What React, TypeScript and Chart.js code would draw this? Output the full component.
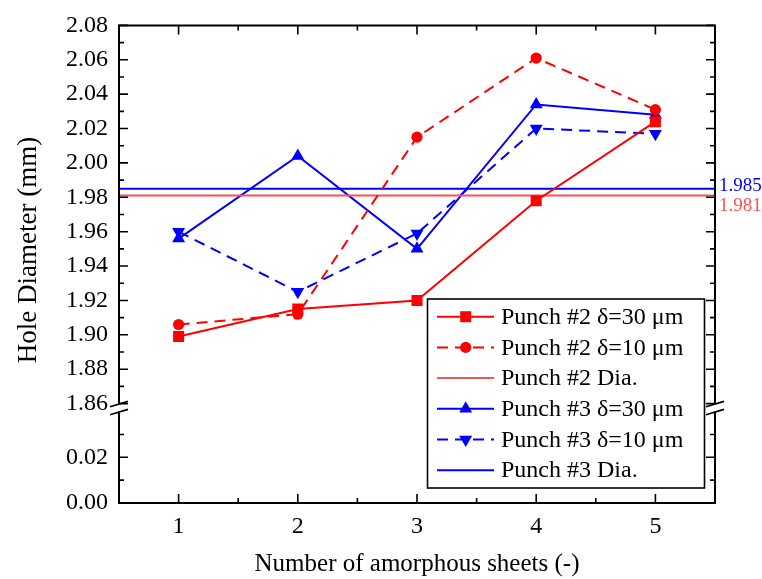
import React, { useEffect, useRef } from 'react';
import { Chart, registerables } from 'chart.js';

Chart.register(...registerables);

// ---------- data ----------
const sheets = [1, 2, 3, 4, 5];
const punch2d30 = [1.899, 1.915, 1.92, 1.978, 2.024];
const punch2d10 = [1.906, 1.912, 2.015, 2.061, 2.031];
const punch3d30 = [1.956, 2.004, 1.95, 2.034, 2.028];
const punch3d10 = [1.96, 1.925, 1.959, 2.02, 2.017];
const punch2Dia = 1.981;
const punch3Dia = 1.985;

const seriesLabels = [
  'Punch #2 δ=30 μm',
  'Punch #2 δ=10 μm',
  'Punch #2 Dia.',
  'Punch #3 δ=30 μm',
  'Punch #3 δ=10 μm',
  'Punch #3 Dia.',
];

const xMin = 0.5;
const xMax = 5.5;
const xTickValues = [1, 2, 3, 4, 5];
const xMinorValues = [1.5, 2.5, 3.5, 4.5];

const upperMin = 1.86;
const upperMax = 2.08;
const upperTicks = [1.86, 1.88, 1.9, 1.92, 1.94, 1.96, 1.98, 2.0, 2.02, 2.04, 2.06, 2.08];
const upperMinor = [1.87, 1.89, 1.91, 1.93, 1.95, 1.97, 1.99, 2.01, 2.03, 2.05, 2.07];

const lowerMin = 0;
const lowerMax = 0.0435;
const lowerBreak = 0.04;
const lowerTicks = [0.0, 0.02];
const lowerMinor = [0.01, 0.03];

const xTitle = 'Number of amorphous sheets (-)';
const yTitle = 'Hole Diameter (mm)';

// ---------- styles ----------
const FONT = "'Liberation Serif', 'Times New Roman', serif";
const RED = '#ff0000';
const RED_LIGHT = '#ff5050';
const BLUE = '#0000ff';
const DASH = [11, 7];

const pts = (ys: number[]) => sheets.map((x, i) => ({ x, y: ys[i] }));
const flat = (v: number) => [{ x: xMin, y: v }, { x: xMax, y: v }];

const datasets: any[] = [
  {
    label: seriesLabels[0], data: pts(punch2d30), borderColor: RED, backgroundColor: RED,
    borderWidth: 2, pointStyle: 'rect', pointRadius: 7.8, pointBorderWidth: 0, yAxisID: 'y', xAxisID: 'x',
    _marker: 'rect', _dash: [],
  },
  {
    label: seriesLabels[1], data: pts(punch2d10), borderColor: RED, backgroundColor: RED,
    borderWidth: 2, borderDash: DASH, pointStyle: 'circle', pointRadius: 5.6, pointBorderWidth: 0, yAxisID: 'y', xAxisID: 'x',
    _marker: 'circle', _dash: DASH,
  },
  {
    label: seriesLabels[2], data: flat(punch2Dia), borderColor: RED_LIGHT, backgroundColor: RED_LIGHT,
    borderWidth: 2, pointRadius: 0, yAxisID: 'y', xAxisID: 'x', _marker: 'none', _dash: [],
  },
  {
    label: seriesLabels[3], data: pts(punch3d30), borderColor: BLUE, backgroundColor: BLUE,
    borderWidth: 2, pointStyle: 'triangle', pointRadius: 7.5, pointBorderWidth: 0, yAxisID: 'y', xAxisID: 'x',
    _marker: 'up', _dash: [],
  },
  {
    label: seriesLabels[4], data: pts(punch3d10), borderColor: BLUE, backgroundColor: BLUE,
    borderWidth: 2, borderDash: DASH, pointStyle: 'triangle', pointRotation: 180, pointRadius: 7.5, pointBorderWidth: 0,
    yAxisID: 'y', xAxisID: 'x', _marker: 'down', _dash: DASH,
  },
  {
    label: seriesLabels[5], data: flat(punch3Dia), borderColor: BLUE, backgroundColor: BLUE,
    borderWidth: 2, pointRadius: 0, yAxisID: 'y', xAxisID: 'x', _marker: 'none', _dash: [],
  },
];

function drawMarker(ctx: CanvasRenderingContext2D, kind: string, x: number, y: number, color: string) {
  ctx.save();
  ctx.fillStyle = color;
  ctx.beginPath();
  if (kind === 'rect') {
    ctx.rect(x - 5.5, y - 5.5, 11, 11);
  } else if (kind === 'circle') {
    ctx.arc(x, y, 5.6, 0, Math.PI * 2);
  } else if (kind === 'up' || kind === 'down') {
    const r = 7.5;
    const s = kind === 'up' ? 1 : -1;
    ctx.moveTo(x, y - s * r);
    ctx.lineTo(x + r * Math.sin((2 * Math.PI) / 3), y + s * r * 0.5);
    ctx.lineTo(x - r * Math.sin((2 * Math.PI) / 3), y + s * r * 0.5);
    ctx.closePath();
  }
  if (kind !== 'none') ctx.fill();
  ctx.restore();
}

const decor = {
  id: 'decor',
  afterDraw(chart: any) {
    const ctx: CanvasRenderingContext2D = chart.ctx;
    const { left, right, top, bottom } = chart.chartArea;
    const xs = chart.scales.x;
    const yU = chart.scales.y;
    const yL = chart.scales.y2;
    const gapTop = yU.getPixelForValue(upperMin);
    const gapBot = yL.getPixelForValue(lowerBreak);

    ctx.save();
    ctx.strokeStyle = '#000';
    ctx.lineWidth = 2;
    ctx.lineCap = 'butt';
    // frame
    ctx.beginPath();
    ctx.moveTo(left, top); ctx.lineTo(right, top);
    ctx.moveTo(left, bottom); ctx.lineTo(right, bottom);
    ctx.moveTo(left, top - 1); ctx.lineTo(left, gapTop);
    ctx.moveTo(left, gapBot); ctx.lineTo(left, bottom + 1);
    ctx.moveTo(right, top - 1); ctx.lineTo(right, gapTop);
    ctx.moveTo(right, gapBot); ctx.lineTo(right, bottom + 1);
    ctx.stroke();

    // ticks
    ctx.lineWidth = 1.6;
    ctx.beginPath();
    const vt = (px: number, len: number) => {
      ctx.moveTo(left, px); ctx.lineTo(left + len, px);
      ctx.moveTo(right, px); ctx.lineTo(right - len, px);
    };
    upperTicks.forEach(v => vt(yU.getPixelForValue(v), 9));
    upperMinor.forEach(v => vt(yU.getPixelForValue(v), 5));
    lowerTicks.forEach(v => vt(yL.getPixelForValue(v), 9));
    lowerMinor.forEach(v => vt(yL.getPixelForValue(v), 5));
    const ht = (px: number, len: number) => {
      ctx.moveTo(px, bottom); ctx.lineTo(px, bottom - len);
      ctx.moveTo(px, top); ctx.lineTo(px, top + len);
    };
    xTickValues.forEach(v => ht(xs.getPixelForValue(v), 9));
    xMinorValues.forEach(v => ht(xs.getPixelForValue(v), 5));
    ctx.stroke();

    // axis break marks
    ctx.lineWidth = 1.6;
    ctx.beginPath();
    [left, right].forEach(ax => {
      [gapTop + 0.5, gapBot + 0.5].forEach(cy => {
        ctx.moveTo(ax - 9, cy + 2.7);
        ctx.lineTo(ax + 9, cy - 2.7);
      });
    });
    ctx.stroke();

    // diameter value labels
    ctx.font = `19px ${FONT}`;
    ctx.textAlign = 'left';
    ctx.textBaseline = 'middle';
    ctx.fillStyle = BLUE;
    ctx.fillText(punch3Dia.toFixed(3), right + 4, yU.getPixelForValue(punch3Dia) - 3);
    ctx.fillStyle = RED_LIGHT;
    ctx.fillText(punch2Dia.toFixed(3), right + 4, yU.getPixelForValue(punch2Dia) + 10);

    // axis titles
    ctx.fillStyle = '#000';
    ctx.font = `25px ${FONT}`;
    ctx.textAlign = 'center';
    ctx.textBaseline = 'alphabetic';
    ctx.fillText(xTitle, (left + right) / 2, 571);
    ctx.save();
    ctx.translate(36, 250);
    ctx.rotate(-Math.PI / 2);
    ctx.font = `27px ${FONT}`;
    ctx.fillText(yTitle, 0, 0);
    ctx.restore();

    // legend
    const lx = 427.5, ly = 299, lw = 277, lh = 189;
    ctx.fillStyle = '#fff';
    ctx.fillRect(lx, ly, lw, lh);
    ctx.strokeStyle = '#000';
    ctx.lineWidth = 1.6;
    ctx.strokeRect(lx, ly, lw, lh);
    const rowY0 = 316.7, rowStep = 30.7;
    chart.data.datasets.forEach((ds: any, i: number) => {
      const cy = rowY0 + i * rowStep;
      ctx.save();
      ctx.strokeStyle = ds.borderColor;
      ctx.lineWidth = 2;
      ctx.setLineDash(ds._dash || []);
      ctx.beginPath();
      ctx.moveTo(437, cy);
      ctx.lineTo(494, cy);
      ctx.stroke();
      ctx.restore();
      drawMarker(ctx, ds._marker, 465.7, cy, ds.backgroundColor);
      ctx.fillStyle = '#000';
      ctx.font = `24px ${FONT}`;
      ctx.textAlign = 'left';
      ctx.textBaseline = 'middle';
      ctx.fillText(ds.label, 501, cy + 1);
    });
    ctx.restore();
  },
};

export default function App() {
  const ref = useRef<HTMLCanvasElement>(null);
  useEffect(() => {
    const canvas = ref.current as HTMLCanvasElement;
    const tickFont = { family: FONT, size: 24 };
    const chart = new Chart(canvas, {
      type: 'line',
      data: { datasets },
      options: {
        animation: false,
        responsive: false,
        devicePixelRatio: 1,
        layout: { padding: { left: 0, right: 47, top: 22, bottom: 0 } },
        plugins: { legend: { display: false }, tooltip: { enabled: false } },
        scales: {
          x: {
            type: 'linear',
            position: 'bottom',
            min: xMin,
            max: xMax,
            afterBuildTicks: (s: any) => { s.ticks = xTickValues.map(v => ({ value: v })); },
            afterFit: (s: any) => { s.height = 76; },
            grid: { display: false, drawTicks: false },
            border: { display: false },
            ticks: { font: tickFont, color: '#000', padding: 9, autoSkip: false, maxRotation: 0, callback: (v: any) => String(v) },
          },
          y: {
            type: 'linear',
            position: 'left',
            stack: 'left',
            stackWeight: 380.4,
            weight: 2,
            min: upperMin,
            max: upperMax,
            afterBuildTicks: (s: any) => { s.ticks = upperTicks.map(v => ({ value: v })); },
            afterFit: (s: any) => { s.width = 119; },
            grid: { display: false, drawTicks: false },
            border: { display: false },
            ticks: { font: tickFont, color: '#000', padding: 11, autoSkip: false, callback: (v: any) => Number(v).toFixed(2) },
          },
          y2: {
            type: 'linear',
            position: 'left',
            stack: 'left',
            stackWeight: 100,
            weight: 1,
            offset: false,
            min: lowerMin,
            max: lowerMax,
            afterBuildTicks: (s: any) => { s.ticks = lowerTicks.map(v => ({ value: v })); },
            afterFit: (s: any) => { s.width = 119; },
            grid: { display: false, drawTicks: false },
            border: { display: false },
            ticks: { font: tickFont, color: '#000', padding: 11, autoSkip: false, callback: (v: any) => Number(v).toFixed(2) },
          },
        },
      } as any,
      plugins: [decor],
    });
    return () => chart.destroy();
  }, []);
  return (
    <div style={{ position: 'absolute', left: 0, top: 0, width: 762, height: 579, background: '#fff' }}>
      <canvas ref={ref} width={762} height={579} style={{ display: 'block', width: 762, height: 579 }} />
    </div>
  );
}
